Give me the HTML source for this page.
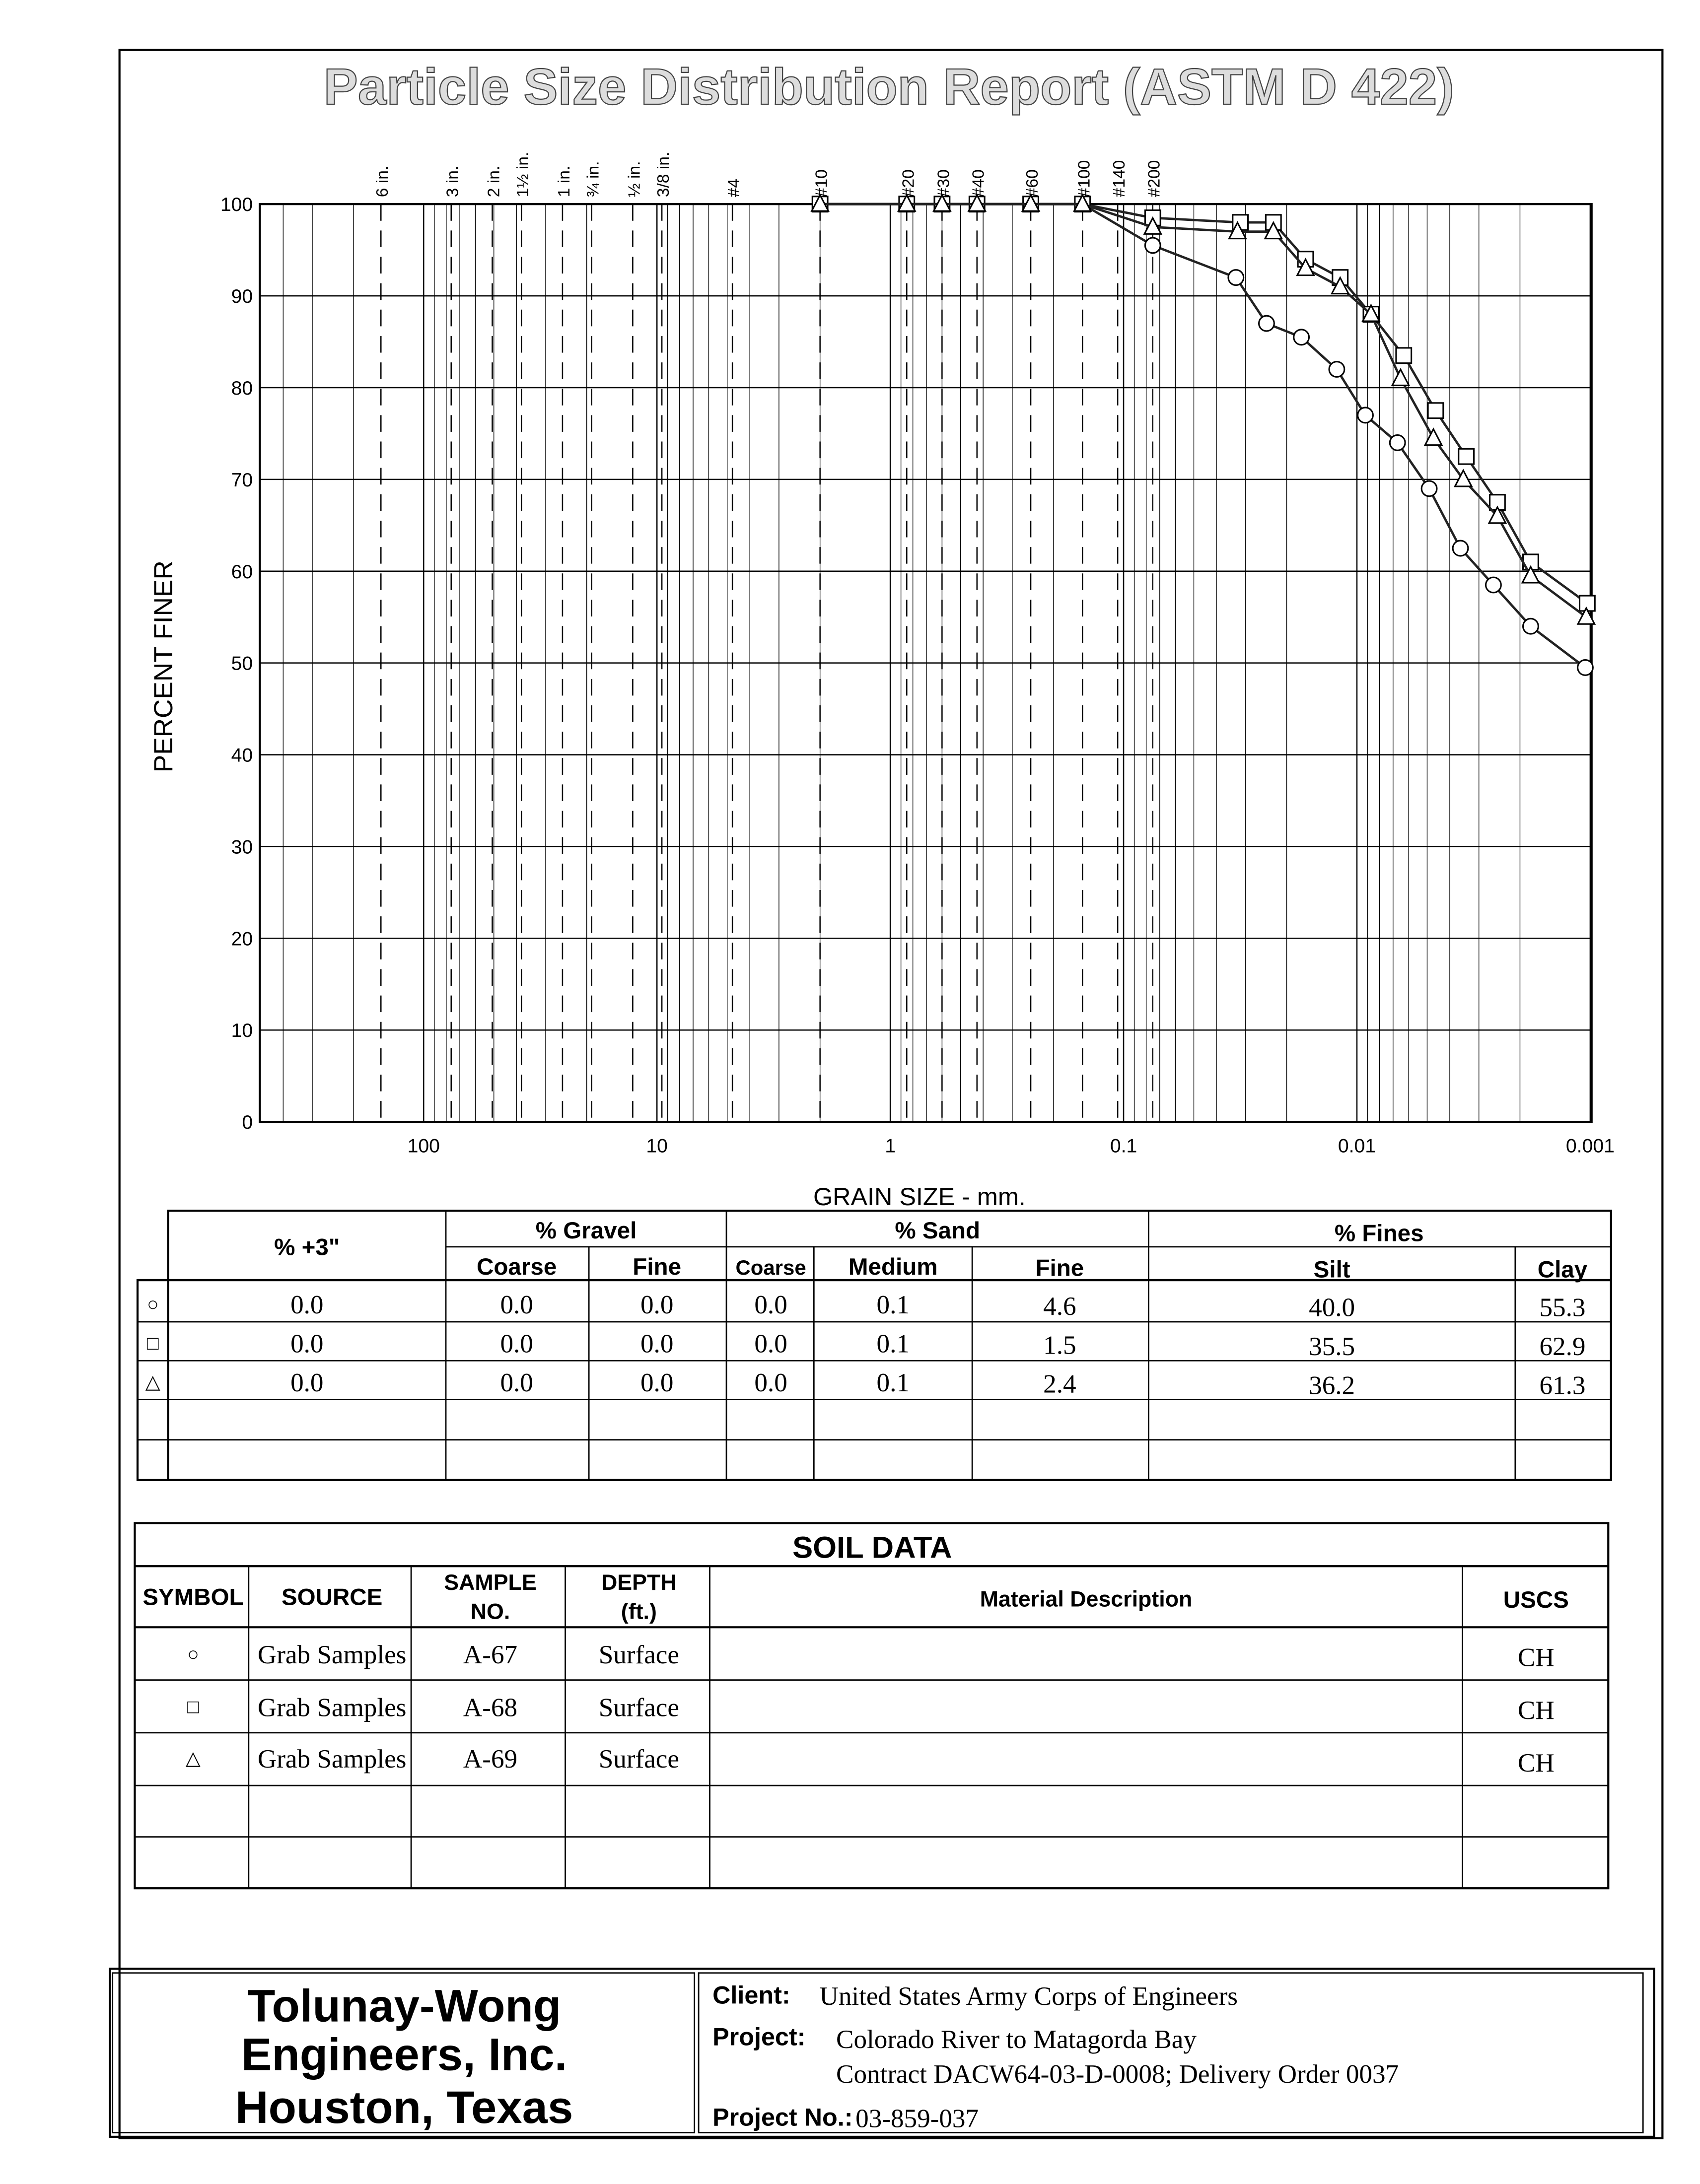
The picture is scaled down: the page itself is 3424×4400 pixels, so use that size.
<!DOCTYPE html>
<html><head><meta charset="utf-8"><style>
body{margin:0;background:#fff}
svg{display:block}
.s{font-family:"Liberation Sans",sans-serif}
.r{font-family:"Liberation Serif",serif}
</style></head><body>
<svg id="pg" xmlns="http://www.w3.org/2000/svg" width="3424" height="4400" viewBox="0 0 1224 1573">
<rect x="0" y="0" width="1224" height="1573" fill="#fff"/>
<rect x="86" y="36" width="1111" height="1504" fill="none" stroke="#000" stroke-width="1.5"/>
<text x="640" y="75" text-anchor="middle" class="s" font-size="37" font-weight="bold" fill="#ddd" stroke="#444" stroke-width="0.8">Particle Size Distribution Report (ASTM D 422)</text>
<g id="chart"></g>
<text x="124" y="480" transform="rotate(-90 124 480)" text-anchor="middle" class="s" font-size="19">PERCENT FINER</text>
<text x="662" y="868" text-anchor="middle" class="s" font-size="18">GRAIN SIZE - mm.</text>

<g stroke="#000" fill="none">
<rect x="99" y="922" width="1061" height="144" stroke-width="1.5"/>
<rect x="121" y="872" width="1039" height="194" stroke-width="1.5"/>
<line x1="321" y1="898" x2="1160" y2="898" stroke-width="1"/>
<line x1="99" y1="922" x2="1160" y2="922" stroke-width="1.5"/>
<line x1="99" y1="952" x2="1160" y2="952"/><line x1="99" y1="980" x2="1160" y2="980"/>
<line x1="99" y1="1008" x2="1160" y2="1008"/><line x1="99" y1="1037" x2="1160" y2="1037"/>
<line x1="321" y1="872" x2="321" y2="1066"/><line x1="424" y1="898" x2="424" y2="1066"/>
<line x1="523" y1="872" x2="523" y2="1066"/><line x1="586" y1="898" x2="586" y2="1066"/>
<line x1="700" y1="898" x2="700" y2="1066"/><line x1="827" y1="872" x2="827" y2="1066"/>
<line x1="1091" y1="898" x2="1091" y2="1066"/>
</g>
<g class="s" font-size="17" font-weight="bold" text-anchor="middle">
<text x="221" y="904">% +3"</text><text x="422" y="892">% Gravel</text><text x="675" y="892">% Sand</text><text x="993" y="894">% Fines</text>
<text x="372" y="918">Coarse</text><text x="473" y="918">Fine</text><text x="555" y="918" font-size="15">Coarse</text><text x="643" y="918">Medium</text><text x="763" y="919">Fine</text><text x="959" y="920">Silt</text><text x="1125" y="920">Clay</text>
</g>
<g class="r" font-size="19" text-anchor="middle">
<text x="110" y="944" font-size="14">○</text><text x="221" y="946">0.0</text><text x="372" y="946">0.0</text><text x="473" y="946">0.0</text><text x="555" y="946">0.0</text><text x="643" y="946">0.1</text><text x="763" y="947">4.6</text><text x="959" y="948">40.0</text><text x="1125" y="948">55.3</text>
<text x="110" y="972" font-size="14">□</text><text x="221" y="974">0.0</text><text x="372" y="974">0.0</text><text x="473" y="974">0.0</text><text x="555" y="974">0.0</text><text x="643" y="974">0.1</text><text x="763" y="975">1.5</text><text x="959" y="976">35.5</text><text x="1125" y="976">62.9</text>
<text x="110" y="1000" font-size="14">△</text><text x="221" y="1002">0.0</text><text x="372" y="1002">0.0</text><text x="473" y="1002">0.0</text><text x="555" y="1002">0.0</text><text x="643" y="1002">0.1</text><text x="763" y="1003">2.4</text><text x="959" y="1004">36.2</text><text x="1125" y="1004">61.3</text>
</g>

<g stroke="#000" fill="none">
<rect x="97" y="1097" width="1061" height="263" stroke-width="1.5"/>
<line x1="97" y1="1128" x2="1158" y2="1128" stroke-width="1.5"/>
<line x1="97" y1="1172" x2="1158" y2="1172" stroke-width="1.5"/>
<line x1="97" y1="1210" x2="1158" y2="1210"/><line x1="97" y1="1248" x2="1158" y2="1248"/>
<line x1="97" y1="1286" x2="1158" y2="1286"/><line x1="97" y1="1323" x2="1158" y2="1323"/>
<line x1="179" y1="1128" x2="179" y2="1360"/><line x1="296" y1="1128" x2="296" y2="1360"/>
<line x1="407" y1="1128" x2="407" y2="1360"/><line x1="511" y1="1128" x2="511" y2="1360"/>
<line x1="1053" y1="1128" x2="1053" y2="1360"/>
</g>
<g class="s" font-weight="bold" text-anchor="middle">
<text x="628" y="1122" font-size="22">SOIL DATA</text>
<text x="139" y="1156" font-size="17">SYMBOL</text><text x="239" y="1156" font-size="17">SOURCE</text>
<text x="353" y="1145" font-size="16">SAMPLE</text><text x="353" y="1166" font-size="16">NO.</text>
<text x="460" y="1145" font-size="16">DEPTH</text><text x="460" y="1166" font-size="16">(ft.)</text>
<text x="782" y="1157" font-size="16">Material Description</text><text x="1106" y="1158" font-size="17">USCS</text>
</g>
<g class="r" font-size="19" text-anchor="middle">
<text x="139" y="1196" font-size="14">○</text><text x="239" y="1198">Grab Samples</text><text x="353" y="1198">A-67</text><text x="460" y="1198">Surface</text><text x="1106" y="1200">CH</text>
<text x="139" y="1234" font-size="14">□</text><text x="239" y="1236">Grab Samples</text><text x="353" y="1236">A-68</text><text x="460" y="1236">Surface</text><text x="1106" y="1238">CH</text>
<text x="139" y="1271" font-size="14">△</text><text x="239" y="1273">Grab Samples</text><text x="353" y="1273">A-69</text><text x="460" y="1273">Surface</text><text x="1106" y="1276">CH</text>
</g>

<g stroke="#000" fill="none">
<rect x="79" y="1418" width="1112" height="121" stroke-width="1.5"/>
<rect x="81" y="1421" width="419" height="115" stroke-width="1"/>
<rect x="503" y="1421" width="680" height="115" stroke-width="1"/>
</g>
<g class="s" font-size="33" font-weight="bold" text-anchor="middle">
<text x="291" y="1456">Tolunay-Wong</text><text x="291" y="1491">Engineers, Inc.</text><text x="291" y="1529">Houston, Texas</text>
</g>
<g>
<text x="513" y="1443" class="s" font-size="18" font-weight="bold">Client:</text><text x="590" y="1444" class="r" font-size="19">United States Army Corps of Engineers</text>
<text x="513" y="1473" class="s" font-size="18" font-weight="bold">Project:</text><text x="602" y="1475" class="r" font-size="19">Colorado River to Matagorda Bay</text>
<text x="602" y="1500" class="r" font-size="19">Contract DACW64-03-D-0008; Delivery Order 0037</text>
<text x="513" y="1531" class="s" font-size="18" font-weight="bold">Project No.:</text><text x="616" y="1532" class="r" font-size="19">03-859-037</text>
</g>
</svg>
<script>
const yTicks=[0,10,20,30,40,50,60,70,80,90,100];
const xTickVals=[100,10,1,0.1,0.01,0.001];
const xTickLabels=["100","10","1","0.1","0.01","0.001"];
const sieveSizes=[152.4,76.2,50.8,38.1,25.4,19.05,12.7,9.525,4.75,2.0,0.85,0.6,0.425,0.25,0.15,0.106,0.075];
const sieveLabels=["6 in.","3 in.","2 in.","1½ in.","1 in.","¾ in.","½ in.","3/8 in.","#4","#10","#20","#30","#40","#60","#100","#140","#200"];
const circleD=[2.0,0.85,0.6,0.425,0.25,0.15,0.075,0.033,0.0244,0.0173,0.0122,0.0092,0.0067,0.0049,0.0036,0.0026,0.0018,0.00105];
const circleP=[100,100,100,100,100,100,95.5,92,87,85.5,82,77,74,69,62.5,58.5,54,49.5];
const squareD=[2.0,0.85,0.6,0.425,0.25,0.15,0.075,0.0316,0.0228,0.0166,0.0118,0.0087,0.0063,0.0046,0.0034,0.0025,0.0018,0.00103];
const squareP=[100,100,100,100,100,100,98.5,98,98,94,92,88,83.5,77.5,72.5,67.5,61,56.5];
const triD=[2.0,0.85,0.6,0.425,0.25,0.15,0.075,0.0325,0.0228,0.0166,0.0118,0.0087,0.0065,0.0047,0.0035,0.0025,0.0018,0.00104];
const triP=[100,100,100,100,100,100,97.5,97,97,93,91,88,81,74.5,70,66,59.5,55];

const L=187,R=1146,T=147,B=808;
const xs=d=>641-Math.log10(d)*168;
const ys=p=>B-(p/100)*(B-T);
const NS="http://www.w3.org/2000/svg";
const g=document.getElementById('chart');
function mk(tag,attrs,parent){const e=document.createElementNS(NS,tag);for(const k in attrs)e.setAttribute(k,attrs[k]);(parent||g).appendChild(e);return e;}

for(let e=-3;e<=2;e++){for(let k=1;k<=9;k++){const d=k*Math.pow(10,e);const x=xs(d);if(x<=L||x>=R)continue;
 const l=mk('line',{x1:x,y1:T,x2:x,y2:B,stroke:'#000','stroke-width':k==1?0.9:0.5});
 
 }}
yTicks.forEach(v=>{
 const l=mk('line',{x1:L,y1:ys(v),x2:R,y2:ys(v),stroke:'#000','stroke-width':0.9});
 
 
 const t=mk('text',{x:182,y:ys(v)+5,'text-anchor':'end','font-size':14,'font-family':'Liberation Sans, sans-serif'});t.textContent=v;
 
 
});
xTickVals.forEach((v,i)=>{
 const t=mk('text',{x:xs(v),y:830,'text-anchor':'middle','font-size':14,'font-family':'Liberation Sans, sans-serif'});t.textContent=xTickLabels[i];
 
 
});
sieveSizes.forEach((d,i)=>{
 const x=xs(d);
 const l=mk('line',{x1:x,y1:T,x2:x,y2:B,stroke:'#000','stroke-width':0.9,'stroke-dasharray':'12,7'});
 
 
 const t=mk('text',{x:x+5,y:142,transform:`rotate(-90 ${x+5} 142)`,'font-size':12,'font-family':'Liberation Sans, sans-serif'});t.textContent=sieveLabels[i];
 
 
});
const fr=mk('rect',{x:L,y:T,width:R-L,height:B-T,fill:'none',stroke:'#000','stroke-width':1.5});



function series(D,P,shape,name){
 const pts=D.map((d,i)=>[xs(d),ys(P[i])]);
 const pl=mk('polyline',{points:pts.map(p=>p.join(',')).join(' '),fill:'none',stroke:'#222','stroke-width':1.7});
 
 
 pts.forEach(([x,y])=>{let m;
  if(shape=='c')m=mk('circle',{cx:x,cy:y,r:5.5,fill:'#fff',stroke:'#000','stroke-width':1.1});
  else if(shape=='s')m=mk('rect',{x:x-5.5,y:y-5.5,width:11,height:11,fill:'#fff',stroke:'#000','stroke-width':1.1});
  else m=mk('polygon',{points:`${x},${y-6.5} ${x-6},${y+5} ${x+6},${y+5}`,fill:'#fff',stroke:'#000','stroke-width':1.1});
  
  });
}
series(circleD,circleP,'c','sample-a67');
series(squareD,squareP,'s','sample-a68');
series(triD,triP,'t','sample-a69');
</script>
</body></html>
